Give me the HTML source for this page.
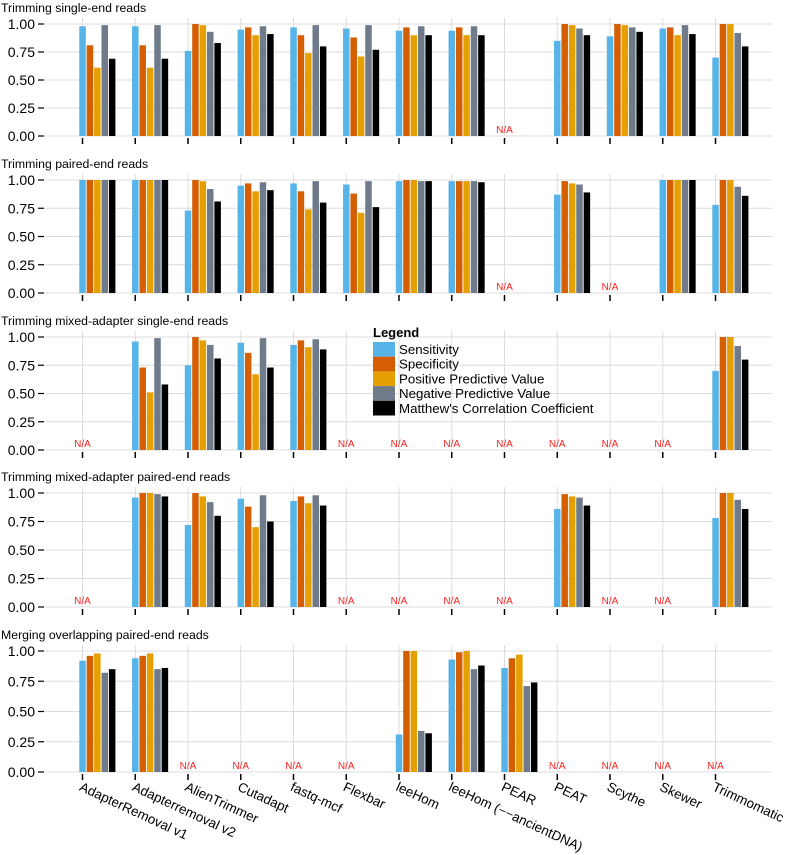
<!DOCTYPE html>
<html><head><meta charset="utf-8"><style>
html,body{margin:0;padding:0;background:#fff;}
svg{display:block;font-family:"Liberation Sans",Arial,sans-serif;}
</style></head><body>
<svg id="chart" width="785" height="855" viewBox="0 0 785 855"></svg>
<script>
const categories=["AdapterRemoval v1","Adapterremoval v2","AlienTrimmer","Cutadapt","fastq-mcf","Flexbar","leeHom","leeHom (--ancientDNA)","PEAR","PEAT","Scythe","Skewer","Trimmomatic"];
const metrics=["Sensitivity","Specificity","Positive Predictive Value","Negative Predictive Value","Matthew's Correlation Coefficient"];
const panelTitles=["Trimming single-end reads","Trimming paired-end reads","Trimming mixed-adapter single-end reads","Trimming mixed-adapter paired-end reads","Merging overlapping paired-end reads"];
const yTicks=[0,0.25,0.5,0.75,1];
const yTickLabels=["0.00","0.25","0.50","0.75","1.00"];
const N=null;
const panel1=[[0.98,0.81,0.61,0.99,0.69],[0.98,0.81,0.61,0.99,0.69],[0.76,1.0,0.99,0.93,0.83],[0.95,0.97,0.90,0.98,0.91],[0.97,0.90,0.74,0.99,0.80],[0.96,0.88,0.71,0.99,0.77],[0.94,0.97,0.90,0.98,0.90],[0.94,0.97,0.90,0.98,0.90],N,[0.85,1.0,0.99,0.96,0.90],[0.89,1.0,0.99,0.97,0.93],[0.96,0.97,0.90,0.99,0.91],[0.70,1.0,1.0,0.92,0.80]];
const panel2=[[1,1,1,1,1],[1,1,1,1,1],[0.73,1.0,0.99,0.92,0.81],[0.95,0.97,0.90,0.98,0.91],[0.97,0.90,0.74,0.99,0.80],[0.96,0.88,0.71,0.99,0.76],[0.99,1,1,0.99,0.99],[0.99,0.99,0.99,0.99,0.98],N,[0.87,0.99,0.97,0.96,0.89],N,[1,1,1,1,1],[0.78,1,1,0.94,0.86]];
const panel3=[N,[0.96,0.73,0.51,0.99,0.58],[0.75,1.0,0.97,0.93,0.81],[0.95,0.86,0.67,0.99,0.73],[0.93,0.97,0.91,0.98,0.89],N,N,N,N,N,N,N,[0.70,1,1,0.92,0.80]];
const panel4=[N,[0.96,1,1,0.99,0.97],[0.72,1,0.97,0.92,0.80],[0.95,0.88,0.70,0.98,0.75],[0.93,0.97,0.91,0.98,0.89],N,N,N,N,[0.86,0.99,0.97,0.96,0.89],N,N,[0.78,1,1,0.94,0.86]];
const panel5=[[0.92,0.96,0.98,0.82,0.85],[0.94,0.96,0.98,0.85,0.86],N,N,N,N,[0.31,1,1,0.34,0.32],[0.93,0.99,1,0.85,0.88],[0.86,0.94,0.97,0.71,0.74],N,N,N,N];
const panels=[panel1,panel2,panel3,panel4,panel5];
const colors=["#56B4E9","#D55E00","#E69F00","#6F7B8B","#000000"];
const NS="http://www.w3.org/2000/svg";
const svg=document.getElementById('chart');
function mk(tag,attrs,parent){const e=document.createElementNS(NS,tag);for(const k in attrs)e.setAttribute(k,attrs[k]);(parent||svg).appendChild(e);return e;}
const layout=[{top:24,bot:136,title:8},{top:180,bot:293,title:164},{top:337,bot:450,title:321},{top:493,bot:607,title:477},{top:651,bot:772,title:635}];
const x0=82.5,step=52.75,plotL=45,plotR=772;
function xScale(i){return x0+i*step;}
panels.forEach((data,p)=>{
  const L=layout[p];
  const yS=v=>L.bot-(L.bot-L.top)*v;
  const g=mk('g',{});
  
  
  const t=mk('text',{x:1,y:L.title+4,'font-size':12.3,fill:'#000'},g);
  t.textContent=panelTitles[p];
  
  
  yTicks.forEach((v,k)=>{
    const y=yS(v);
    const gl=mk('line',{x1:plotL,x2:plotR,y1:y,y2:y,stroke:'#dcdcdc','stroke-width':1},g);
    
    
    mk('line',{x1:38,x2:44,y1:y,y2:y,stroke:'#000','stroke-width':1.2},g);
    const tl=mk('text',{x:35,y:y+5,'font-size':14,'text-anchor':'end',fill:'#000'},g);
    tl.textContent=yTickLabels[k];
    
    
  });
  categories.forEach((c,i)=>{
    const x=xScale(i);
    mk('line',{x1:x,x2:x,y1:L.top-6,y2:L.bot,stroke:'#dcdcdc','stroke-width':1},g);
    mk('line',{x1:x,x2:x,y1:L.bot+2,y2:L.bot+8,stroke:'#000','stroke-width':1.5},g);
    const vals=data[i];
    if(!vals){
      const na=mk('text',{x:x,y:L.bot-3,'font-size':10,'text-anchor':'middle',fill:'#ff2020'},g);
      na.textContent='N/A';
      
      
      return;
    }
    vals.forEach((v,m)=>{
      const bx=x-3.2+m*7.4;
      const r=mk('rect',{x:bx,y:yS(v),width:6.5,height:L.bot-yS(v),fill:colors[m]},g);
      
      
    });
  });
});
categories.forEach((c,i)=>{
  const x=xScale(i)-4, y=790;
  const t=mk('text',{x:x,y:y,'font-size':13.4,fill:'#000',transform:`rotate(25 ${x} ${y})`});
  t.textContent=c.replace('--','\u2212\u2212');
  
  
});
const lg=mk('g',{});


const lt=mk('text',{x:373,y:337,'font-size':13,'font-weight':'bold',fill:'#000'},lg);
lt.textContent='Legend';
metrics.forEach((m,k)=>{
  const y=342+k*14.7;
  mk('rect',{x:373,y:y,width:22,height:14.7,fill:colors[k]},lg);
  const tx=mk('text',{x:399,y:y+12,'font-size':13.3,fill:'#000'},lg);
  tx.textContent=m;
  
  
});
</script>
</body></html>
